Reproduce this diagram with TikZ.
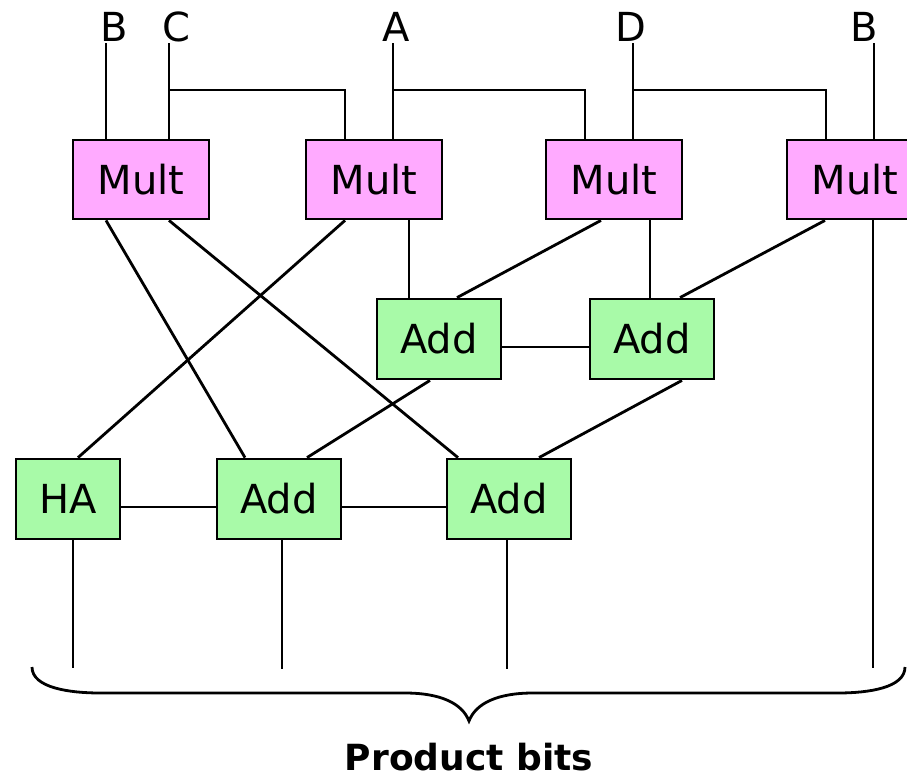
\documentclass[tikz,border=0pt]{standalone}
\usepackage{fontspec}
\setmainfont{DejaVu Sans}
\usetikzlibrary{positioning,calc}
\definecolor{multpink}{RGB}{255,170,255}
\definecolor{addgreen}{RGB}{168,250,168}
\tikzset{
  mult/.style={draw, fill=multpink, line width=1.4pt, minimum width=68pt, minimum height=39.5pt,
    inner sep=0pt, font=\fontsize{20}{24}\selectfont},
  adder/.style={mult, fill=addgreen, minimum width=62pt, minimum height=40pt},
  inlabel/.style={font=\fontsize{20}{24}\selectfont},
  wire/.style={line width=1.4pt}
}
\begin{document}
\begin{tikzpicture}[x=0.5pt, y=-0.5pt, wire]
  \clip (0,0) rectangle (907,778);

  \node (m1) [mult] at (141,179.5) {Mult};
  \node (m2) [mult, right=47.1pt of m1] {Mult};
  \node (m3) [mult, right=50.6pt of m2] {Mult};
  \node (m4) [mult, right=51.1pt of m3] {Mult};
  \node (a1) [adder] at (439,339) {Add};
  \node (a2) [adder, right=43.1pt of a1] {Add};
  \node (ha) [adder, minimum width=52pt] at (68,499) {HA};
  \node (a3) [adder, right=47.1pt of ha] {Add};
  \node (a4) [adder, right=51.6pt of a3] {Add};

  \node (lB1) [inlabel] at (114,27) {B};
  \node (lC) [inlabel] at (176,27) {C};
  \node (lA) [inlabel] at (396,27) {A};
  \node (lD) [inlabel] at (631,27) {D};
  \node (lB2) [inlabel] at (864,27) {B};
  \coordinate (pB1) at (106,43);
  \coordinate (pC) at (169,43);
  \coordinate (pA) at (393,43);
  \coordinate (pD) at (633,43);
  \coordinate (pB2) at (874,43);
  \coordinate (jC) at (169,90);
  \coordinate (jA) at (393,90);
  \coordinate (jD) at (633,90);

  \draw (pB1) -- (pB1 |- m1.north);
  \draw (pC) -- (pC |- m1.north);
  \draw (pA) -- (pA |- m2.north);
  \draw (pD) -- (pD |- m3.north);
  \draw (pB2) -- (pB2 |- m4.north);
  \draw (jC) -| ($(m2.north)+(-29,0)$);
  \draw (jA) -| ($(m3.north)+(-29,0)$);
  \draw (jD) -| ($(m4.north)+(-29,0)$);

  \draw ($(m1.south)+(-35,0)$) -- ($(a3.north)+(-34,0)$);
  \draw ($(m1.south)+(28,0)$) -- ($(a4.north)+(-51,0)$);
  \draw ($(m2.south)+(-29,0)$) -- ($(ha.north)+(10,0)$);
  \draw ($(m2.south)+(35,0)$) -- ($(a1.north)+(-30,0)$);
  \draw ($(m3.south)+(-13,0)$) -- ($(a1.north)+(18,0)$);
  \draw ($(m3.south)+(36,0)$) -- ($(a2.north)+(-2,0)$);
  \draw ($(m4.south)+(-30,0)$) -- ($(a2.north)+(28,0)$);
  \draw ($(a1.south)+(-9,0)$) -- ($(a3.north)+(28,0)$);
  \draw ($(a2.south)+(30,0)$) -- ($(a4.north)+(30,0)$);
  \draw ($(a1.east)+(0,8)$) -- ($(a2.west)+(0,8)$);
  \draw ($(ha.east)+(0,8)$) -- ($(a3.west)+(0,8)$);
  \draw ($(a3.east)+(0,8)$) -- ($(a4.west)+(0,8)$);

  \draw ($(ha.south)+(5,0)$) -- ++(0,128);
  \draw ($(a3.south)+(3,0)$) -- ++(0,129);
  \draw ($(a4.south)+(-2,0)$) -- ++(0,129);
  \draw ($(m4.south)+(18,0)$) -- ++(0,448);

  \draw (32,667) .. controls (32,688) and (70,693) .. (100,693) -- (405,693)
    .. controls (440,693) and (462,703) .. (469,721)
    .. controls (476,703) and (498,693) .. (533,693) -- (838,693)
    .. controls (868,693) and (905,688) .. (905,667);
  \node (bits) [font=\bfseries\fontsize{18}{22}\selectfont] at (469,757) {Product bits};
\end{tikzpicture}
\end{document}
